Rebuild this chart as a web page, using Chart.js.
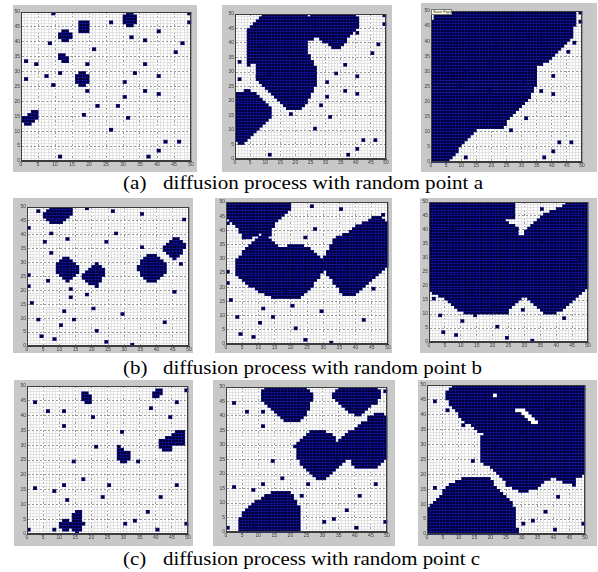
<!DOCTYPE html>
<html>
<head>
<meta charset="utf-8">
<title>diffusion process</title>
<script src="https://cdn.jsdelivr.net/npm/chart.js@4.4.1/dist/chart.umd.min.js"></script>
<style>
  html, body { margin: 0; padding: 0; background: #fff; }
  body { position: relative; width: 598px; height: 572px; overflow: hidden; }
  .panel { position: absolute; background: #c8c8c8; }
  .panel canvas { position: absolute; left: 0; top: 0; }
  .cap { position: absolute; font-family: "Liberation Serif", "Times New Roman", serif; font-size: 18px; line-height: 18px; white-space: nowrap; color: #000; transform-origin: 0 0; }
  .tip { position: absolute; left: 431px; top: 9px; width: 18px; height: 4px; background: #ffffe1; border: 1px solid #777; font: 4px/4px "Liberation Sans", sans-serif; color: #222; overflow: hidden; padding-left: 1px; white-space: nowrap; }
</style>
</head>
<body>
<script>
// axis tick labels (cells are 1 unit, grid 0..50)
const tickLabels = [0, 5, 10, 15, 20, 25, 30, 35, 40, 45, 50];

const captionTags = ['(a)', '(b)', '(c)'];
const captionTexts = [
  'diffusion process with random point a',
  'diffusion process with random point b',
  'diffusion process with random point c'
];

// random points [col, row]
const pointsA = [[9,49],[49,49],[49,46],[26,46],[40,43],[32,41],[36,40],[8,39],[47,39],[21,37],[45,36],[1,33],[4,32],[19,32],[36,32],[33,29],[11,29],[7,28],[40,28],[1,27],[30,26],[9,25],[36,23],[19,23],[40,22],[30,21],[22,18],[28,18],[18,15],[31,14],[26,10],[42,6],[46,6],[40,3],[11,1],[37,1]];
const pointsB = [[3,48],[18,49],[26,48],[35,47],[48,45],[0,42],[7,40],[27,40],[12,38],[5,37],[24,37],[7,33],[35,35],[47,29],[0,25],[6,23],[0,21],[13,20],[45,19],[13,17],[18,18],[1,15],[20,13],[11,12],[29,11],[3,9],[14,9],[10,7],[42,8],[21,5],[4,3],[8,2],[24,1],[32,0]];
const pointsC = [[2,44],[6,41],[11,41],[11,36],[20,39],[49,48],[46,44],[38,42],[44,39],[29,34],[21,29],[14,24],[34,24],[17,18],[25,16],[11,16],[2,15],[8,14],[12,11],[23,12],[46,16],[41,12],[37,7],[33,4],[30,3],[40,1],[49,3],[0,1],[8,1]];

// diffused regions as row spans [row, firstCol, lastCol]
const blobsA1 = [[49,31,32],[48,30,33],[47,30,33],[46,30,33],[45,31,32],
  [46,17,19],[45,17,19],[44,17,19],[43,17,19],
  [43,12,13],[42,11,14],[41,11,14],[40,12,13],
  [35,11,12],[34,11,13],[33,12,13],
  [29,17,18],[28,16,19],[27,16,19],[26,16,19],[25,17,18],
  [16,3,4],[15,2,4],[14,0,4],[13,0,3],[12,1,2]];
const blobsA2 = [[49,9,23],[49,25,39],[48,8,40],[47,7,40],[46,6,40],[45,5,40],[44,4,39],[43,4,38],[42,4,37],
  [41,4,25],[41,28,36],[40,4,23],[40,29,35],[39,4,23],[39,31,35],[38,4,23],[38,32,34],
  [37,4,23],[36,4,23],[35,4,24],[34,4,24],[33,4,25],[32,7,25],[31,7,26],[30,7,26],[29,7,26],[28,7,26],
  [27,7,26],[26,8,26],[25,9,26],[24,10,25],[23,11,25],[22,12,24],[21,13,24],[20,14,23],[19,15,23],[18,16,22],[17,17,21],
  [23,3,4],[22,0,6],[21,0,7],[20,0,8],[19,0,9],[18,0,10],[17,0,11],[16,0,11],[15,0,11],[14,0,11],[13,0,10],
  [12,0,9],[11,0,8],[10,0,7],[9,0,6],[8,0,5],[7,0,4],[6,0,3],[5,1,2]];
const blobsA3 = [[49,2,47],[48,1,47],[47,1,47],[46,0,47],[45,0,47],[44,0,46],[43,0,46],[42,0,46],[41,0,46],[40,0,45],
  [39,0,44],[38,0,43],[37,0,42],[36,0,41],[35,0,40],[34,0,39],[33,0,38],[32,0,36],[31,0,34],[30,0,34],
  [29,0,34],[28,0,34],[27,0,34],[26,0,34],[25,0,34],[24,0,33],[23,0,33],[22,0,32],[21,0,32],[20,0,31],
  [19,0,30],[18,0,29],[17,0,28],[16,0,27],[15,0,26],[14,0,25],[13,0,24],[12,0,24],[11,0,23],[10,0,14],
  [9,0,13],[8,0,12],[7,0,11],[6,0,10],[5,0,9],[4,0,8],[3,0,8],[2,0,7],[1,0,6],[0,0,5]];

const blobsB1 = [[49,7,13],[48,6,13],[47,5,13],[46,5,12],[45,6,11],[44,7,10],
  [31,11,12],[30,10,13],[29,9,14],[28,9,15],[27,9,15],[26,9,15],[25,10,14],[24,11,13],[23,12,12],
  [29,21,21],[28,20,22],[27,19,23],[26,18,23],[25,17,23],[24,17,22],[23,18,22],[22,19,21],[21,21,21],
  [32,37,39],[31,36,40],[30,35,41],[29,35,42],[28,34,42],[27,34,42],[26,35,42],[25,35,41],[24,36,40],[23,37,39],
  [38,45,46],[37,44,47],[36,43,48],[35,42,48],[34,42,47],[33,43,47],[32,44,46],[31,45,45]];
const blobsB2 = [[49,0,19],[48,0,19],[47,0,19],[46,0,18],[45,0,17],[44,0,16],[43,1,15],[42,2,14],[41,3,14],[40,4,13],
  [39,4,13],[38,5,9],[38,11,13],[37,5,7],
  [37,10,12],[36,9,13],[35,8,14],[34,7,15],[34,19,23],[33,6,25],[32,5,26],[31,5,27],[30,4,28],[29,3,29],
  [28,3,30],[27,3,30],[26,3,29],[25,3,29],[24,3,28],[23,4,28],[22,5,27],[21,6,26],[20,7,26],[19,9,25],
  [18,10,24],[17,12,23],[16,14,22],
  [44,45,47],[43,44,48],[42,42,49],[41,40,49],[40,39,49],[39,38,49],[38,36,49],[37,34,49],[36,33,49],[35,33,49],
  [34,32,49],[33,32,49],[32,31,49],[31,31,49],[30,30,49],[29,30,49],[28,31,49],[27,31,49],[26,30,48],[25,31,47],
  [24,31,46],[23,32,45],[22,33,44],[21,33,43],[20,34,42],[19,35,41],[18,35,40],[17,36,39]];
const blobsB3 = [[49,0,26],[49,43,49],[48,0,26],[48,42,49],[47,0,26],[47,40,49],[46,0,26],[46,38,49],[45,0,26],[45,36,49],
  [44,0,26],[44,35,49],[43,0,23],[43,34,49],[42,0,24],[42,33,49],[41,0,26],[41,32,49],[40,0,27],[40,31,49],
  [39,0,27],[39,30,49],[38,0,27],[38,30,49],
  [37,0,49],[36,0,49],[35,0,49],[34,0,49],[33,0,49],[32,0,49],[31,0,49],[30,0,49],[29,0,49],[28,0,49],
  [27,0,49],[26,0,49],[25,0,49],[24,0,49],[23,0,49],[22,0,49],[21,0,49],[20,0,49],[19,0,49],[18,0,48],
  [17,1,47],[16,3,46],[15,5,28],[15,31,45],[14,6,27],[14,32,44],[13,7,26],[13,33,43],[12,8,25],[12,34,42],
  [11,9,24],[11,35,41],[10,11,24],[10,36,39]];

const blobsC1 = [[47,17,18],[46,17,19],[45,17,19],[44,18,19],
  [48,40,41],[47,39,41],[46,39,40],
  [29,28,28],[28,28,29],[27,28,31],[26,28,31],[25,28,31],[24,29,30],
  [34,46,48],[33,45,48],[32,43,48],[31,41,48],[30,41,48],[29,41,44],[28,42,44],
  [7,15,16],[6,14,16],[5,14,16],[4,11,12],[4,14,16],[3,10,17],[2,10,16],[1,11,12],[1,14,16],[0,15,15]];
const blobsC2 = [[49,12,24],[48,11,25],[47,11,26],[46,11,26],[45,11,26],[44,12,25],[43,13,25],[42,14,25],[41,15,24],[40,16,24],[39,17,23],[38,18,22],
  [49,35,46],[48,34,47],[47,33,47],[46,33,47],[45,34,46],[44,35,45],[43,36,44],[42,37,43],[41,38,42],[40,40,41],
  [40,46,48],[39,45,49],[38,44,49],[37,42,49],[36,41,49],[35,40,49],[34,26,30],[34,38,49],[33,25,32],[33,37,49],
  [32,24,33],[32,36,49],[31,23,33],[31,35,49],[30,22,49],[29,22,49],[28,22,49],[27,22,49],[26,22,49],[25,22,49],
  [24,23,36],[24,39,48],[23,23,35],[23,39,47],[22,24,34],[22,40,46],[21,25,33],[20,26,32],[19,27,31],[18,28,30],
  [13,14,19],[12,12,20],[11,11,20],[10,9,21],[9,8,21],[8,7,22],[7,6,22],[6,5,22],[5,5,22],[4,4,22],
  [3,4,22],[2,4,22],[1,4,22],[0,4,22]];
const blobsC3 = [[49,8,49],[48,7,49],[47,6,49],[46,6,49],[45,6,49],[44,7,49],[43,7,49],[42,8,49],[41,9,49],[40,10,49],
  [39,10,49],[38,11,49],[37,12,49],[36,14,49],[35,15,49],[34,16,49],[33,18,49],[32,17,49],[31,17,49],[30,17,49],
  [29,17,49],[28,17,49],[27,17,49],[26,17,49],[25,17,49],[24,17,49],[23,18,49],[22,20,49],[21,21,49],[20,22,49],
  [19,23,48],[18,24,38],[18,41,46],[17,25,36],[17,43,46],[16,25,35],[15,27,34],[14,29,31],
  [18,11,19],[17,9,20],[16,7,20],[15,6,21],[14,5,22],[13,5,23],[12,4,24],[11,3,25],[10,2,26],[9,1,26],
  [8,0,27],[7,0,27],[6,0,27],[5,0,27],[4,0,27],[3,0,27],[2,0,27],[1,0,28],[0,0,28]];
// white cells left inside the region of c3
const holesC3 = [[46,21,21],[41,28,30],[40,30,31],[39,31,32],[38,32,33],[37,33,34]];

// panel placement: gray figure box and axes box, [left, top, right, bottom]
const panels = [
  { gray: [13, 5, 197, 172], plot: [21, 12, 191, 161], blobs: blobsA1, points: pointsA },
  { gray: [222, 5, 392, 172], plot: [235, 14, 386, 159], blobs: blobsA2, points: pointsA },
  { gray: [421, 3, 597, 172], plot: [431, 11, 582, 162], blobs: blobsA3, points: pointsA },
  { gray: [13, 198, 193, 353], plot: [27, 207, 189, 346], blobs: blobsB1, points: pointsB },
  { gray: [215, 198, 392, 353], plot: [226, 202, 388, 344], blobs: blobsB2, points: pointsB },
  { gray: [420, 198, 597, 353], plot: [429, 202, 588, 342], blobs: blobsB3, points: pointsB },
  { gray: [14, 380, 193, 546], plot: [27, 386, 188, 534], blobs: blobsC1, points: pointsC },
  { gray: [213, 380, 395, 546], plot: [226, 387, 387, 532], blobs: blobsC2, points: pointsC },
  { gray: [418, 380, 597, 546], plot: [427, 385, 585, 534], blobs: blobsC3, points: pointsC, holes: holesC3 }
];

const captionPos = [
  { tagX: 123, textX: 163, right: 483, top: 174 },
  { tagX: 123, textX: 163, right: 482, top: 359 },
  { tagX: 123, textX: 163, right: 480, top: 550 }
];

const NAVY = '#000038';
const CELL_LINE = 'rgba(30,30,230,0.27)';

const toSpans = list => list.map(([r, a, b]) => ({ x: [a, b + 1], y: r + 0.5 }));
const toCells = list => list.map(([c, r]) => ({ x: [c, c + 1], y: r + 0.5 }));

// blue cell edges on the filled cells
const cellLines = {
  id: 'cellLines',
  afterDatasetDraw(chart, args) {
    const ds = chart.data.datasets[args.index];
    if (!ds.lineColor) return;
    const { ctx, scales: { x, y } } = chart;
    const px = v => Math.floor(x.getPixelForValue(v)) + 0.5;
    const py = v => Math.floor(y.getPixelForValue(v)) + 0.5;
    ctx.save();
    ctx.strokeStyle = ds.lineColor;
    ctx.lineWidth = 1;
    ctx.beginPath();
    ds.data.forEach(d => {
      const top = py(d.y + 0.5), bot = py(d.y - 0.5);
      ctx.moveTo(px(d.x[0]), top); ctx.lineTo(px(d.x[1]), top);
      ctx.moveTo(px(d.x[0]), bot); ctx.lineTo(px(d.x[1]), bot);
      for (let k = d.x[0]; k <= d.x[1]; k++) {
        ctx.moveTo(px(k), top); ctx.lineTo(px(k), bot);
      }
    });
    ctx.stroke();
    ctx.restore();
  }
};

// box around the axes
const frame = {
  id: 'frame',
  afterDraw(chart) {
    const { ctx, chartArea: a } = chart;
    ctx.save();
    ctx.strokeStyle = '#3c3c3c';
    ctx.lineWidth = 1;
    ctx.strokeRect(Math.round(a.left) + 0.5, Math.round(a.top) + 0.5, Math.round(a.right - a.left) - 1, Math.round(a.bottom - a.top) - 1);
    ctx.restore();
  }
};

function axis(size, isX) {
  return {
    type: 'linear',
    min: 0,
    max: 50,
    offset: false,
    ticks: {
      stepSize: 1,
      maxTicksLimit: 60,
      autoSkip: false,
      maxRotation: 0,
      minRotation: 0,
      padding: 1,
      color: '#3a3a3a',
      font: { family: 'Liberation Sans', size: 5 },
      callback: v => tickLabels.includes(v) ? String(v) : ''
    },
    grid: {
      offset: false,
      drawTicks: false,
      lineWidth: 1,
      color: c => c.tick && c.tick.value % 5 === 0 ? '#9a9a9a' : '#e2e2e2'
    },
    border: {
      color: '#3c3c3c',
      dash: c => c.tick && c.tick.value % 5 === 0 && c.tick.value > 0 && c.tick.value < 50 ? [2, 2] : []
    },
    afterFit: s => { if (isX) s.height = size; else s.width = size; }
  };
}

panels.forEach(p => {
  const [gl, gt, gr, gb] = p.gray;
  const [pl, pt, pr, pb] = p.plot;
  const div = document.createElement('div');
  div.className = 'panel';
  div.style.left = gl + 'px';
  div.style.top = gt + 'px';
  div.style.width = (gr - gl) + 'px';
  div.style.height = (gb - gt) + 'px';
  const canvas = document.createElement('canvas');
  canvas.width = gr - gl;
  canvas.height = gb - gt;
  div.appendChild(canvas);
  document.body.appendChild(div);

  new Chart(canvas, {
    type: 'bar',
    data: {
      datasets: [
        { data: toSpans(p.holes || []), backgroundColor: '#ffffff', borderWidth: 0, grouped: false, barPercentage: 1, categoryPercentage: 1 },
        { data: toCells(p.points), backgroundColor: NAVY, lineColor: CELL_LINE, borderWidth: 0, grouped: false, barPercentage: 1, categoryPercentage: 1 },
        { data: toSpans(p.blobs), backgroundColor: NAVY, lineColor: CELL_LINE, borderWidth: 0, grouped: false, barPercentage: 1, categoryPercentage: 1 }
      ]
    },
    options: {
      indexAxis: 'y',
      responsive: false,
      animation: false,
      events: [],
      layout: { padding: { left: 0, top: pt - gt, right: gr - pr, bottom: 0 } },
      plugins: { legend: { display: false }, tooltip: { enabled: false } },
      scales: {
        x: axis(gb - pb, true),
        y: axis(pl - gl, false)
      }
    },
    plugins: [cellLines, frame, {
      id: 'whiteArea',
      beforeDraw(chart) {
        const { ctx, chartArea: a } = chart;
        ctx.save();
        ctx.fillStyle = '#ffffff';
        ctx.fillRect(a.left, a.top, a.right - a.left, a.bottom - a.top);
        ctx.restore();
      }
    }]
  });
});

// "Save Figure" tooltip seen over the third panel
const tip = document.createElement('div');
tip.className = 'tip';
tip.textContent = 'Save Figure';
document.body.appendChild(tip);

// captions
captionPos.forEach((c, i) => {
  const tag = document.createElement('div');
  tag.className = 'cap';
  tag.textContent = captionTags[i];
  tag.style.left = c.tagX + 'px';
  tag.style.top = c.top + 'px';
  document.body.appendChild(tag);
  const txt = document.createElement('div');
  txt.className = 'cap';
  txt.textContent = captionTexts[i];
  txt.style.left = c.textX + 'px';
  txt.style.top = c.top + 'px';
  document.body.appendChild(txt);
  const w = txt.getBoundingClientRect().width;
  const sx = (c.right - c.textX) / w;
  txt.style.transform = 'scaleX(' + sx.toFixed(3) + ')';
  tag.style.transform = 'scaleX(' + sx.toFixed(3) + ')';
});
</script>
</body>
</html>
